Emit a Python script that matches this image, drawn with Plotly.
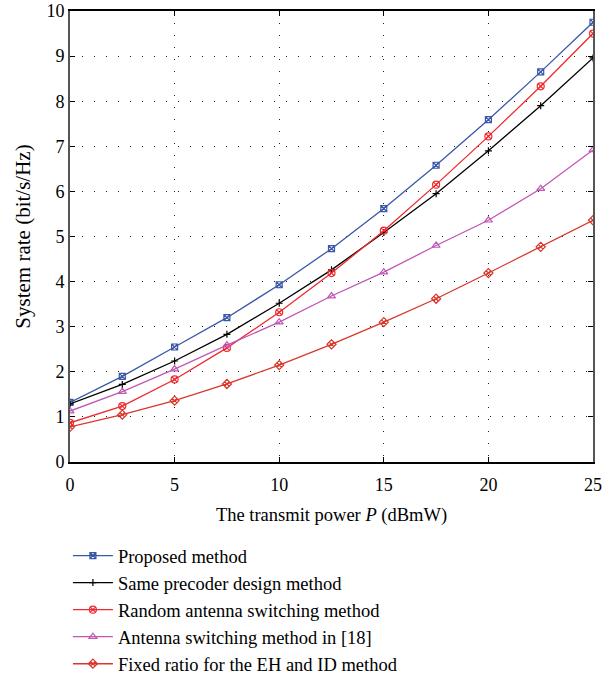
import plotly.graph_objects as go

power = [0, 2.5, 5, 7.5, 10, 12.5, 15, 17.5, 20, 22.5, 25]
proposed = [1.32, 1.90, 2.55, 3.20, 3.93, 4.73, 5.62, 6.58, 7.59, 8.65, 9.75]
same_precoder = [1.29, 1.72, 2.24, 2.83, 3.52, 4.26, 5.09, 5.95, 6.90, 7.90, 8.96]
random_switch = [0.87, 1.24, 1.83, 2.53, 3.32, 4.19, 5.13, 6.15, 7.22, 8.33, 9.50]
switch_18 = [1.13, 1.56, 2.06, 2.59, 3.10, 3.68, 4.21, 4.80, 5.36, 6.06, 6.92]
fixed_ratio = [0.78, 1.05, 1.36, 1.73, 2.15, 2.61, 3.10, 3.62, 4.19, 4.77, 5.36]

names = ["Proposed method", "Same precoder design method", "Random antenna switching method",
         "Antenna switching method in [18]", "Fixed ratio for the EH and ID method"]
series = [proposed, same_precoder, random_switch, switch_18, fixed_ratio]
colors = ["#3A57A8", "#000000", "#EE2A2E", "#C057B5", "#D8372C"]
symbols = ["square-x-open", "cross-thin-open", "circle-x-open", "triangle-up-open", "diamond-x-open"]
sizes = [6, 5, 7, 7, 7]

font = "Liberation Serif"
fig = go.Figure()
for n, s, c, sym, sz in zip(names, series, colors, symbols, sizes):
    fig.add_trace(go.Scatter(x=power, y=s, name=n, mode="lines+markers",
                             line=dict(color=c, width=1.3),
                             marker=dict(symbol=sym, size=sz, color=c, line=dict(color=c, width=1.2))))

axis_common = dict(showline=True, linecolor="black", linewidth=1.5, mirror="ticks",
                   ticks="inside", ticklen=5, tickcolor="black", automargin=False,
                   showgrid=True, gridcolor="#222222", griddash="1px,11px", gridwidth=1.2,
                   zeroline=False, tickfont=dict(family=font, size=18, color="black"))
fig.update_xaxes(range=[0, 25], dtick=5, **axis_common, ticklabelstandoff=6,
                 title=dict(text="The transmit power <i>P</i> (dBmW)", font=dict(family=font, size=18.5, color="black"), standoff=14))
fig.update_yaxes(range=[0, 10], dtick=1, **axis_common,
                 title=dict(text="System rate (bit/s/Hz)", font=dict(family=font, size=21, color="black"), standoff=10))
fig.update_yaxes(linecolor="#555555", linewidth=2)

fig.update_layout(width=602, height=678, margin=dict(l=70, r=9, t=11, b=216),
                  plot_bgcolor="white", paper_bgcolor="white",
                  font=dict(family=font, color="black"),
                  legend=dict(x=-0.004, xref="paper", y=1 - 537 / 678, yref="container",
                              xanchor="left", yanchor="top", orientation="v",
                              font=dict(family=font, size=18.5, color="black"),
                              tracegroupgap=0, itemwidth=40, bgcolor="rgba(0,0,0,0)"))
fig.write_html("out.html", config={"displayModeBar": False},
               post_script="document.body.style.margin='0';document.body.style.overflow='hidden';")
